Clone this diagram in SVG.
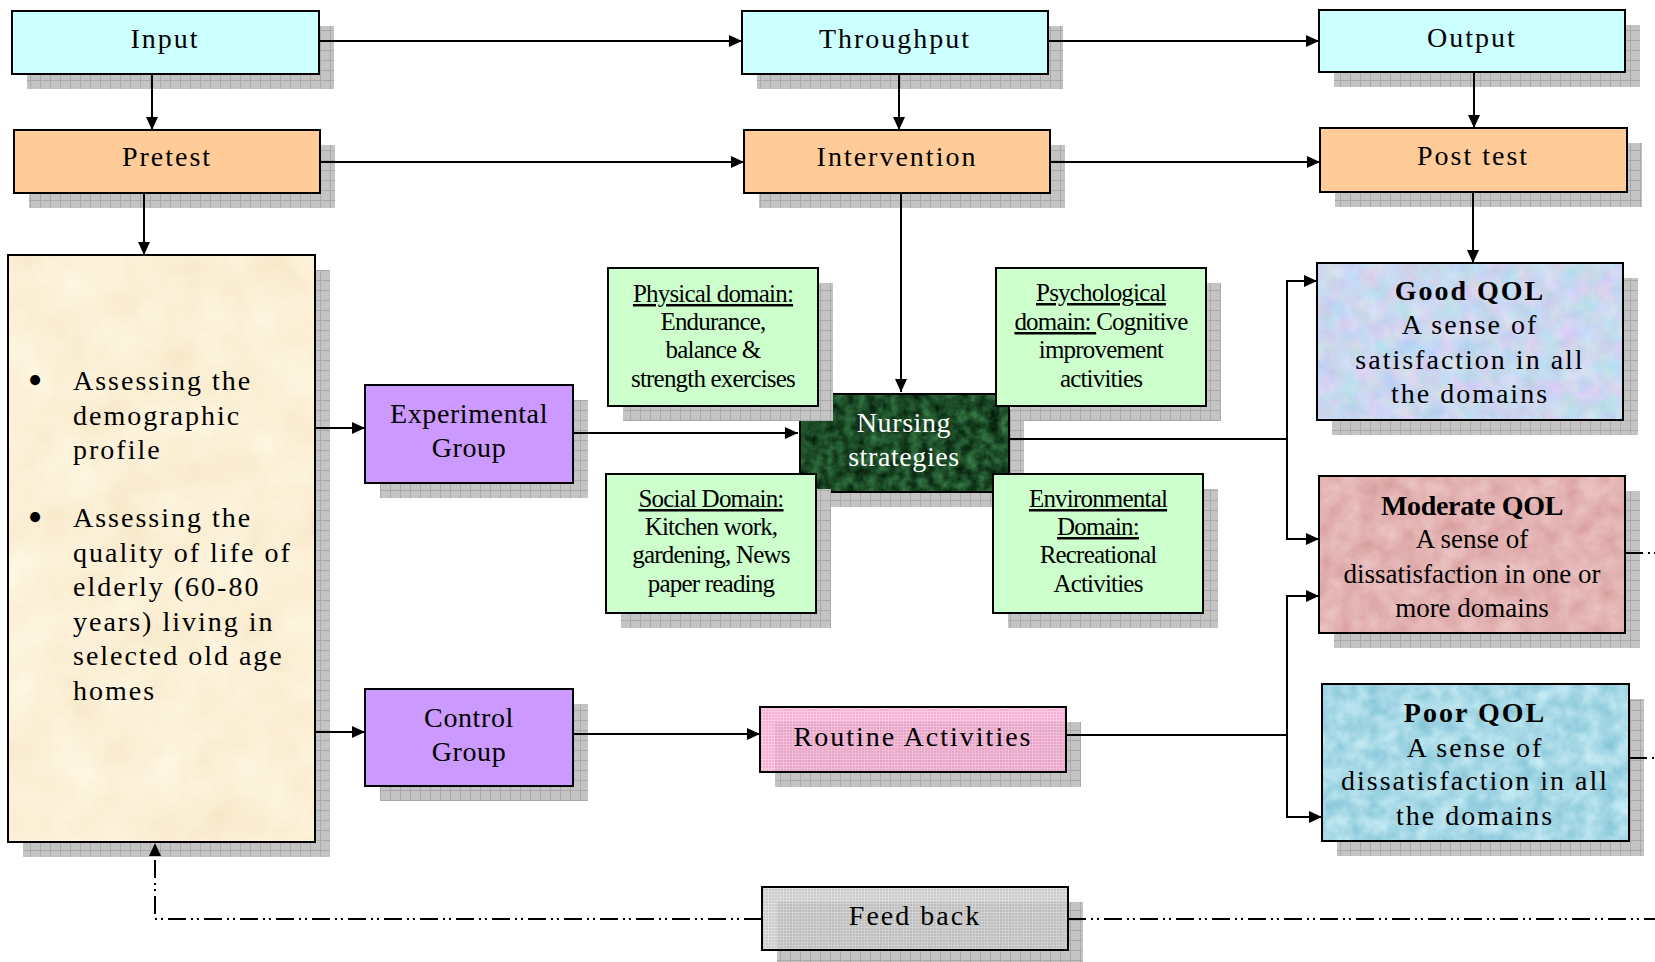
<svg xmlns="http://www.w3.org/2000/svg" width="1655" height="962" viewBox="0 0 1655 962">
<defs>
<style>
.bx{stroke:#000;stroke-width:2;fill:none}
.sh{fill:url(#shadowP)}
.t{font-family:"Liberation Serif","Times New Roman",serif;fill:#000}
.c{text-anchor:middle}
.s28{font-size:28px;letter-spacing:2px}
.s27{font-size:28px;letter-spacing:0.6px}
.dom{font-size:25px;letter-spacing:-0.8px}
.mod{font-size:27px;letter-spacing:0px}
.bul{font-size:42px}
.b{font-weight:bold}
.cn{stroke:#000;stroke-width:2;fill:none}
.dd{stroke-dasharray:18 5 2 4 2 5}
</style>
<marker id="ah" markerUnits="userSpaceOnUse" markerWidth="13" markerHeight="12" refX="13" refY="6" orient="auto">
<path d="M0,0 L13,6 L0,12 z" fill="#000"/>
</marker>
<pattern id="shadowP" width="10" height="10" patternUnits="userSpaceOnUse">
<rect width="10" height="10" fill="#c4c4c4"/>
<path d="M0,0.5 H10 M0.5,0 V10" stroke="#a9a9a9" stroke-width="1"/>
</pattern>
<pattern id="pinkP" width="3" height="3" patternUnits="userSpaceOnUse">
<rect width="3" height="3" fill="#f49ccb"/>
<path d="M0,0.5 H3 M0.5,0 V3" stroke="#f9bfdd" stroke-width="1"/>
</pattern>
<pattern id="grayP" width="3" height="3" patternUnits="userSpaceOnUse">
<rect width="3" height="3" fill="#bdbdbd"/>
<path d="M0,0.5 H3 M0.5,0 V3" stroke="#d6d6d6" stroke-width="1"/>
</pattern>
<filter id="fParch" x="0" y="0" width="1" height="1" color-interpolation-filters="sRGB">
<feTurbulence type="fractalNoise" baseFrequency="0.02" numOctaves="4" seed="2"/>
<feColorMatrix type="matrix" values="0.04 0 0 0 0.965  0.08 0 0 0 0.9  0.14 0 0 0 0.77  0 0 0 0 1"/>
<feComposite in2="SourceAlpha" operator="in"/>
</filter>
<filter id="fGood" x="0" y="0" width="1" height="1" color-interpolation-filters="sRGB">
<feTurbulence type="fractalNoise" baseFrequency="0.05" numOctaves="4" seed="7"/>
<feColorMatrix type="matrix" values="0.25 0 0 0 0.67  0 0.15 0 0 0.77  0 0 0.12 0 0.88  0 0 0 0 1"/>
<feComposite in2="SourceAlpha" operator="in"/>
</filter>
<filter id="fMod" x="0" y="0" width="1" height="1" color-interpolation-filters="sRGB">
<feTurbulence type="fractalNoise" baseFrequency="0.05" numOctaves="4" seed="11"/>
<feColorMatrix type="matrix" values="0.1 0 0 0 0.84  0.2 0 0 0 0.6  0.2 0 0 0 0.6  0 0 0 0 1"/>
<feComposite in2="SourceAlpha" operator="in"/>
</filter>
<filter id="fPoor" x="0" y="0" width="1" height="1" color-interpolation-filters="sRGB">
<feTurbulence type="fractalNoise" baseFrequency="0.06" numOctaves="3" seed="5"/>
<feColorMatrix type="matrix" values="0.35 0 0 0 0.48  0.2 0 0 0 0.75  0.15 0 0 0 0.83  0 0 0 0 1"/>
<feComposite in2="SourceAlpha" operator="in"/>
</filter>
<filter id="fNurse" x="0" y="0" width="1" height="1" color-interpolation-filters="sRGB">
<feTurbulence type="fractalNoise" baseFrequency="0.09" numOctaves="5" seed="3"/>
<feColorMatrix type="matrix" values="0.3 0 0 0 -0.04  0.55 0 0 0 0.02  0.35 0 0 0 -0.02  0 0 0 0 1"/>
<feComposite in2="SourceAlpha" operator="in"/>
</filter>
</defs>
<rect width="1655" height="962" fill="#fff"/>

<g id="input">
<rect class="sh" x="27" y="26" width="307" height="63"/>
<rect x="12" y="11" width="307" height="63" fill="#ccffff"/>
<rect class="bx" x="12" y="11" width="307" height="63"/>
<text class="t c s28" x="165" y="48">Input</text>
</g>
<g id="throughput">
<rect class="sh" x="757" y="26" width="306" height="63"/>
<rect x="742" y="11" width="306" height="63" fill="#ccffff"/>
<rect class="bx" x="742" y="11" width="306" height="63"/>
<text class="t c s28" x="895" y="48">Throughput</text>
</g>
<g id="output">
<rect class="sh" x="1334" y="25" width="306" height="62"/>
<rect x="1319" y="10" width="306" height="62" fill="#ccffff"/>
<rect class="bx" x="1319" y="10" width="306" height="62"/>
<text class="t c s28" x="1472" y="47">Output</text>
</g>
<g id="pretest">
<rect class="sh" x="29" y="145" width="306" height="63"/>
<rect x="14" y="130" width="306" height="63" fill="#ffcc99"/>
<rect class="bx" x="14" y="130" width="306" height="63"/>
<text class="t c s28" x="167" y="166">Pretest</text>
</g>
<g id="intervention">
<rect class="sh" x="759" y="145" width="306" height="63"/>
<rect x="744" y="130" width="306" height="63" fill="#ffcc99"/>
<rect class="bx" x="744" y="130" width="306" height="63"/>
<text class="t c s28" x="897" y="166">Intervention</text>
</g>
<g id="posttest">
<rect class="sh" x="1335" y="143" width="307" height="64"/>
<rect x="1320" y="128" width="307" height="64" fill="#ffcc99"/>
<rect class="bx" x="1320" y="128" width="307" height="64"/>
<text class="t c s28" x="1473" y="165">Post test</text>
</g>
<g id="assessment">
<rect class="sh" x="23" y="270" width="307" height="587"/>
<rect x="8" y="255" width="307" height="587" fill="#fcf0d8" filter="url(#fParch)"/>
<rect class="bx" x="8" y="255" width="307" height="587"/>
<text class="t c bul" x="35" y="394">•</text>
<text class="t s28" x="73" y="390">Assessing the</text>
<text class="t s28" x="73" y="425">demographic</text>
<text class="t s28" x="73" y="459">profile</text>
<text class="t c bul" x="35" y="531">•</text>
<text class="t s28" x="73" y="527">Assessing the</text>
<text class="t s28" x="73" y="562">quality of life of</text>
<text class="t s28" x="73" y="596">elderly (60-80</text>
<text class="t s28" x="73" y="631">years) living in</text>
<text class="t s28" x="73" y="665">selected old age</text>
<text class="t s28" x="73" y="700">homes</text>
</g>
<g id="experimental">
<rect class="sh" x="380" y="400" width="208" height="98"/>
<rect x="365" y="385" width="208" height="98" fill="#cc99ff"/>
<rect class="bx" x="365" y="385" width="208" height="98"/>
<text class="t c s27" x="469" y="423">Experimental</text>
<text class="t c s27" x="469" y="457">Group</text>
</g>
<g id="control">
<rect class="sh" x="380" y="704" width="208" height="97"/>
<rect x="365" y="689" width="208" height="97" fill="#cc99ff"/>
<rect class="bx" x="365" y="689" width="208" height="97"/>
<text class="t c s27" x="469" y="727">Control</text>
<text class="t c s27" x="469" y="761">Group</text>
</g>
<g id="nursing">
<rect class="sh" x="815" y="409" width="209" height="98"/>
<rect x="800" y="394" width="209" height="98" fill="#1f5530" filter="url(#fNurse)"/>
<rect class="bx" x="800" y="394" width="209" height="98"/>
<text class="t c s27" x="904" y="432" style="fill:#fff">Nursing</text>
<text class="t c s27" x="904" y="466" style="fill:#fff">strategies</text>
</g>
<g id="physical">
<rect class="sh" x="623" y="283" width="210" height="138"/>
<rect x="608" y="268" width="210" height="138" fill="#ccffcc"/>
<rect class="bx" x="608" y="268" width="210" height="138"/>
<text class="t c dom" x="713" y="302" text-decoration="underline">Physical domain:</text>
<text class="t c dom" x="713" y="330">Endurance,</text>
<text class="t c dom" x="713" y="358">balance &amp;</text>
<text class="t c dom" x="713" y="387">strength exercises</text>
</g>
<g id="psychological">
<rect class="sh" x="1011" y="283" width="210" height="138"/>
<rect x="996" y="268" width="210" height="138" fill="#ccffcc"/>
<rect class="bx" x="996" y="268" width="210" height="138"/>
<text class="t c dom" x="1101" y="301" text-decoration="underline">Psychological</text>
<text class="t c dom" x="1101" y="330"><tspan text-decoration="underline">domain: </tspan>Cognitive</text>
<text class="t c dom" x="1101" y="358">improvement</text>
<text class="t c dom" x="1101" y="387">activities</text>
</g>
<g id="social">
<rect class="sh" x="621" y="489" width="210" height="139"/>
<rect x="606" y="474" width="210" height="139" fill="#ccffcc"/>
<rect class="bx" x="606" y="474" width="210" height="139"/>
<text class="t c dom" x="711" y="507" text-decoration="underline">Social Domain:</text>
<text class="t c dom" x="711" y="535">Kitchen work,</text>
<text class="t c dom" x="711" y="563">gardening, News</text>
<text class="t c dom" x="711" y="592">paper reading</text>
</g>
<g id="environmental">
<rect class="sh" x="1008" y="489" width="210" height="139"/>
<rect x="993" y="474" width="210" height="139" fill="#ccffcc"/>
<rect class="bx" x="993" y="474" width="210" height="139"/>
<text class="t c dom" x="1098" y="507" text-decoration="underline">Environmental</text>
<text class="t c dom" x="1098" y="535" text-decoration="underline">Domain:</text>
<text class="t c dom" x="1098" y="563">Recreational</text>
<text class="t c dom" x="1098" y="592">Activities</text>
</g>
<g id="goodqol">
<rect class="sh" x="1332" y="278" width="306" height="157"/>
<rect x="1317" y="263" width="306" height="157" fill="#ccd9ee" filter="url(#fGood)"/>
<rect class="bx" x="1317" y="263" width="306" height="157"/>
<text class="t c s28 b" x="1470" y="300">Good QOL</text>
<text class="t c s28" x="1470" y="334">A sense of</text>
<text class="t c s28" x="1470" y="369">satisfaction in all</text>
<text class="t c s28" x="1470" y="403">the domains</text>
</g>
<g id="moderateqol">
<rect class="sh" x="1334" y="491" width="306" height="157"/>
<rect x="1319" y="476" width="306" height="157" fill="#e6b8b8" filter="url(#fMod)"/>
<rect class="bx" x="1319" y="476" width="306" height="157"/>
<text class="t c b" x="1472" y="515" style="font-size:28px;letter-spacing:-0.3px">Moderate QOL</text>
<text class="t c mod" x="1472" y="548">A sense of</text>
<text class="t c mod" x="1472" y="583">dissatisfaction in one or</text>
<text class="t c mod" x="1472" y="617">more domains</text>
</g>
<g id="poorqol">
<rect class="sh" x="1337" y="699" width="307" height="157"/>
<rect x="1322" y="684" width="307" height="157" fill="#aadbe6" filter="url(#fPoor)"/>
<rect class="bx" x="1322" y="684" width="307" height="157"/>
<text class="t c s28 b" x="1475" y="722">Poor QOL</text>
<text class="t c s28" x="1475" y="757">A sense of</text>
<text class="t c s28" x="1475" y="790">dissatisfaction in all</text>
<text class="t c s28" x="1475" y="825">the domains</text>
</g>
<g id="routine">
<rect class="sh" x="775" y="722" width="306" height="65"/>
<rect x="760" y="707" width="306" height="65" fill="url(#pinkP)" fill-opacity="0.82"/>
<rect class="bx" x="760" y="707" width="306" height="65"/>
<text class="t c s28" x="913" y="746">Routine Activities</text>
</g>
<g id="feedback">
<rect class="sh" x="777" y="902" width="306" height="63"/>
<rect x="762" y="887" width="306" height="63" fill="url(#grayP)" fill-opacity="0.8"/>
<rect class="bx" x="762" y="887" width="306" height="63"/>
<text class="t c s28" x="915" y="925">Feed back</text>
</g>

<g id="connectors">
<path class="cn" d="M319,41 H742" marker-end="url(#ah)"/>
<path class="cn" d="M1048,41 H1319" marker-end="url(#ah)"/>
<path class="cn" d="M152,74 V130" marker-end="url(#ah)"/>
<path class="cn" d="M899,74 V130" marker-end="url(#ah)"/>
<path class="cn" d="M1474,72 V128" marker-end="url(#ah)"/>
<path class="cn" d="M320,162 H744" marker-end="url(#ah)"/>
<path class="cn" d="M1050,162 H1320" marker-end="url(#ah)"/>
<path class="cn" d="M144,193 V255" marker-end="url(#ah)"/>
<path class="cn" d="M1473,192 V263" marker-end="url(#ah)"/>
<path class="cn" d="M901,193 V392" marker-end="url(#ah)"/>
<path class="cn" d="M315,428 H365" marker-end="url(#ah)"/>
<path class="cn" d="M315,732 H365" marker-end="url(#ah)"/>
<path class="cn" d="M573,433 H798" marker-end="url(#ah)"/>
<path class="cn" d="M573,734 H760" marker-end="url(#ah)"/>
<path class="cn" d="M1009,439 H1287"/>
<path class="cn" d="M1287,439 V281 H1317" marker-end="url(#ah)"/>
<path class="cn" d="M1287,439 V539 H1319" marker-end="url(#ah)"/>
<path class="cn" d="M1066,735 H1287"/>
<path class="cn" d="M1287,735 V596 H1319" marker-end="url(#ah)"/>
<path class="cn" d="M1287,735 V817 H1322" marker-end="url(#ah)"/>
<path class="cn dd" d="M1068,919 H1655"/>
<path class="cn dd" d="M762,919 H155 V843" marker-end="url(#ah)"/>
<path class="cn dd" d="M1625,553 H1655"/>
<path class="cn dd" d="M1629,758 H1655"/>
</g>
</svg>
